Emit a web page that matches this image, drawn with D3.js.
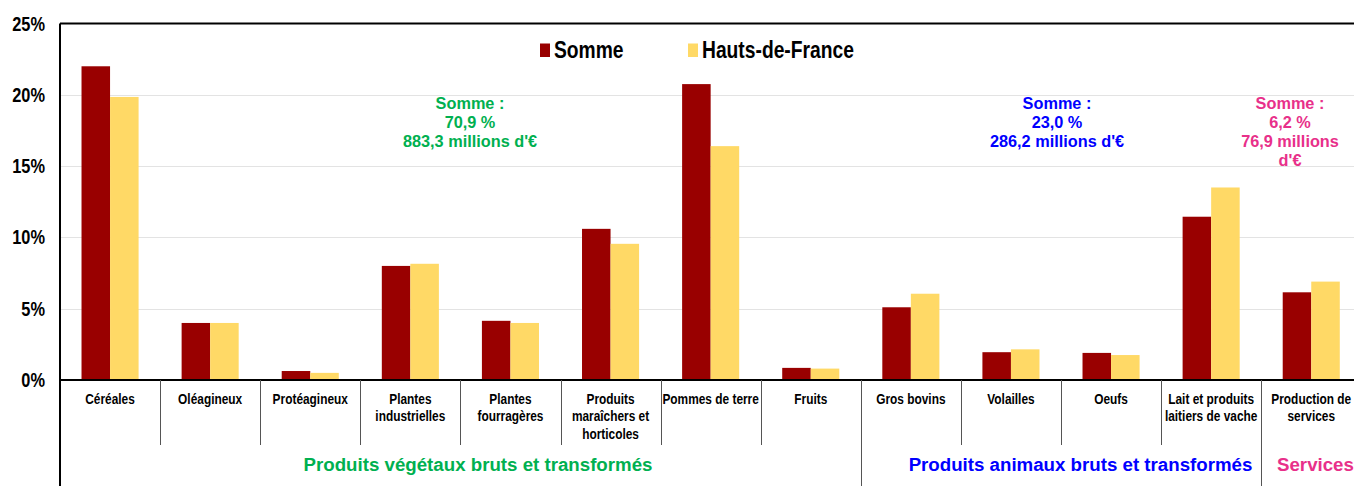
<!DOCTYPE html>
<html><head><meta charset="utf-8">
<script src="https://cdn.jsdelivr.net/npm/d3@7"></script>
<style>
body{margin:0;background:#fff;}
svg{display:block;}
</style></head>
<body>
<svg id="c" width="1354" height="486"></svg>
<script>
const categories = [
  ["Céréales"], ["Oléagineux"], ["Protéagineux"], ["Plantes","industrielles"],
  ["Plantes","fourragères"], ["Produits","maraîchers et","horticoles"], ["Pommes de terre"],
  ["Fruits"], ["Gros bovins"], ["Volailles"], ["Oeufs"], ["Lait et produits","laitiers de vache"],
  ["Production de","services"]
];
const seriesNames = ["Somme", "Hauts-de-France"];
const somme = [22.0, 4.0, 0.63, 8.0, 4.15, 10.6, 20.75, 0.85, 5.1, 1.95, 1.9, 11.45, 6.15];
const hdf   = [19.85, 4.0, 0.5, 8.15, 4.0, 9.55, 16.4, 0.8, 6.05, 2.15, 1.75, 13.5, 6.9];
const yTicks = [0, 5, 10, 15, 20, 25];
const groupNames = ["Produits végétaux bruts et transformés", "Produits animaux bruts et transformés", "Services"];
const groupColors = ["#00B050", "#0000FF", "#E8308A"];
const notes = [
  {lines:["Somme :","70,9 %","883,3 millions d'€"], color:"#00B050"},
  {lines:["Somme :","23,0 %","286,2 millions d'€"], color:"#0000FF"},
  {lines:["Somme :","6,2 %","76,9 millions","d'€"], color:"#E8308A"}
];
const colors = ["#990000", "#FFD966"];

(function(){
const svg = d3.select("#c");
const FONT = "'Liberation Sans',Arial,sans-serif";
const NX = 0.82; // narrow horizontal scale
const left = 60, topY = 23.5, base = 380, right = 60 + 13*100.1;

const x0 = d3.scaleBand().domain(d3.range(categories.length)).range([left, right]).padding(0);
const x1 = d3.scaleBand().domain(seriesNames).range([0, x0.bandwidth()]).paddingInner(0).paddingOuter(0.754);
const y = d3.scaleLinear().domain([0, 25]).range([base, topY]);

function narrowText(parent, x, yPos, lines, size, anchor, dyLine, fill, nx){
  const g = parent.append("g").attr("transform", `translate(${x},${yPos}) scale(${nx||NX},1)`);
  const t = g.append("text").attr("text-anchor", anchor).attr("font-family", FONT)
    .attr("font-weight","bold").attr("font-size", size).attr("fill", fill || "#000");
  t.selectAll("tspan").data(lines).join("tspan").attr("x", 0)
    .attr("dy", (d,k)=>k===0?0:dyLine).text(d=>d);
  return g;
}

// gridlines
svg.append("g").selectAll("line").data(yTicks.filter(t => t>0 && t<25)).join("line")
  .attr("x1", left).attr("x2", 1354).attr("y1", d=>Math.round(y(d))+0.5).attr("y2", d=>Math.round(y(d))+0.5)
  .attr("stroke", "#e3e3e3").attr("stroke-width", 1);

// bars
const data = categories.map((c,i)=>({i, vals:[somme[i], hdf[i]]}));
const g = svg.append("g").selectAll("g").data(data).join("g")
  .attr("transform", d=>`translate(${x0(d.i)},0)`);
g.selectAll("rect").data(d=>d.vals.map((v,k)=>({v,k}))).join("rect")
  .attr("x", d=>x1(seriesNames[d.k])).attr("width", x1.bandwidth())
  .attr("y", d=>y(d.v)).attr("height", d=>base - y(d.v))
  .attr("fill", d=>colors[d.k]);

// y axis labels
const yl = svg.append("g");
yTicks.forEach(t => narrowText(yl, 45, y(t)+7, [t+"%"], 19.5, "end", 0, "#000", 0.84));

// frame lines
svg.append("line").attr("x1", left).attr("x2", 1354).attr("y1", topY).attr("y2", topY).attr("stroke","#000").attr("stroke-width",2);
svg.append("line").attr("x1", left).attr("x2", left).attr("y1", topY).attr("y2", 486).attr("stroke","#000").attr("stroke-width",2);
svg.append("line").attr("x1", left).attr("x2", 1354).attr("y1", base).attr("y2", base).attr("stroke","#000").attr("stroke-width",2);

// category separators
svg.append("g").selectAll("line").data(d3.range(1, categories.length)).join("line")
  .attr("x1", d=>Math.round(x0(d))+0.5).attr("x2", d=>Math.round(x0(d))+0.5)
  .attr("y1", base).attr("y2", d=> (d===8||d===12) ? 486 : 445)
  .attr("stroke", "#555").attr("stroke-width", 1);

// category labels
const cl = svg.append("g");
categories.forEach((c,i)=> narrowText(cl, x0(i)+x0.bandwidth()/2, 403.5, c, 14.5, "middle", 18));

// group labels
const groupX = [478, 1080.5, 1277];
const groupAnchor = ["middle","middle","start"];
svg.append("g").selectAll("text").data(groupNames).join("text")
  .attr("text-anchor",(d,i)=>groupAnchor[i]).attr("font-family", FONT).attr("font-weight","bold").attr("font-size", 18.7)
  .attr("fill", (d,i)=>groupColors[i])
  .attr("x", (d,i)=>groupX[i]).attr("y", 470.5).text(d=>d);

// notes
const noteX = [470, 1057, 1290];
const nt = svg.append("g").selectAll("text").data(notes).join("text")
  .attr("text-anchor","middle").attr("font-family", FONT)
  .attr("font-weight","bold").attr("font-size", 16.3).attr("fill", d=>d.color)
  .attr("x", (d,i)=>noteX[i]).attr("y", 109);
nt.selectAll("tspan").data(d=>d.lines).join("tspan")
  .attr("x", function(){return this.parentNode.getAttribute("x");})
  .attr("dy", (d,k)=>k===0?0:19).text(d=>d);

// legend
const legX = [540, 688];
seriesNames.forEach((s,k)=>{
  svg.append("rect").attr("x", legX[k]).attr("y", 43.5).attr("width", 10).attr("height", 13.5).attr("fill", colors[k]);
  narrowText(svg, legX[k]+14, 58, [s], 23.5, "start", 0);
});
})();
</script>
</body></html>
